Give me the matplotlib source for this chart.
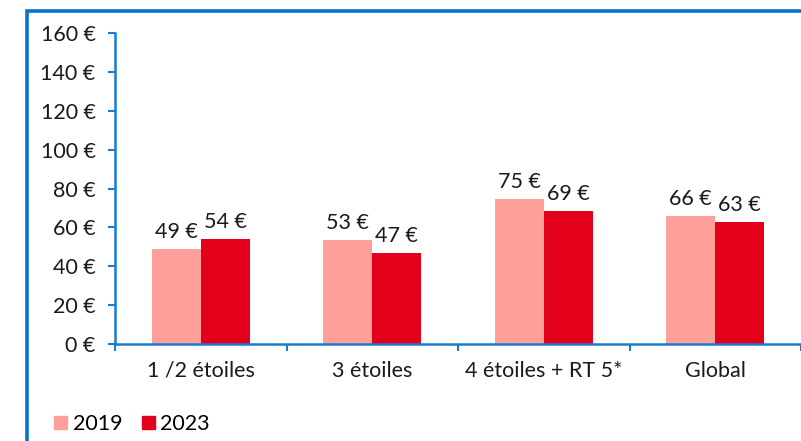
import matplotlib.pyplot as plt
import numpy as np
from matplotlib.patches import Rectangle, Patch

# ============================================================
# DONNEES
# ============================================================

categories = ['1 /2 étoiles', '3 étoiles', '4 étoiles + RT 5*', 'Global']
prix_2019 = [48.9, 53.4, 74.7, 65.8]
prix_2023 = [54.1, 46.6, 68.6, 62.6]
y_ticks = [0, 20, 40, 60, 80, 100, 120, 140, 160]

# ============================================================
# STYLE
# ============================================================

plt.rcParams['font.family'] = ['Lato', 'DejaVu Sans']
bleu = '#1B7BCC'
rose = '#FF9F9A'
rouge = '#E2001A'
fs = 15.5

fig = plt.figure(figsize=(8.01, 4.41), dpi=100)

# cadre bleu autour du graphique
fig.patches.append(Rectangle((27 / 801, -0.1), 1.2, 1 - 11 / 441 + 0.1,
                             transform=fig.transFigure, fill=False,
                             edgecolor='#0A72C6', linewidth=2.6))

ax = fig.add_axes([115 / 801, 97 / 441, 686 / 801, 311 / 441])

x = np.arange(len(categories))
w = 0.286

b1 = ax.bar(x - w / 2, prix_2019, w, color=rose, label='2019')
b2 = ax.bar(x + w / 2, prix_2023, w, color=rouge, label='2023')

for bars, vals in [(b1, prix_2019), (b2, prix_2023)]:
    for rect, v in zip(bars, vals):
        ax.annotate(f'{v:.0f} €',
                    (rect.get_x() + rect.get_width() / 2, v),
                    xytext=(0, 5), textcoords='offset points',
                    ha='center', va='bottom', fontsize=fs, color='#1a1a1a')

ax.set_xlim(-0.5, len(categories) - 0.5)
ax.set_ylim(0, 160)

ax.set_yticks(y_ticks)
ax.set_yticklabels([f'{t} €' for t in y_ticks], fontsize=fs, color='#1a1a1a')

ax.set_xticks(x)
ax.set_xticklabels(categories, fontsize=fs, color='#1a1a1a')
ax.tick_params(axis='x', length=0, pad=12)
ax.set_xticks(np.arange(-0.5, len(categories)), minor=True)
ax.tick_params(axis='x', which='minor', length=5, color=bleu, width=1.5)
ax.tick_params(axis='y', length=5, color=bleu, width=1.5, pad=9)

for s in ['top', 'right']:
    ax.spines[s].set_visible(False)
for s in ['left', 'bottom']:
    ax.spines[s].set_color(bleu)
    ax.spines[s].set_linewidth(1.8)

handles = [Patch(color=rose, label='2019'), Patch(color=rouge, label='2023')]
fig.legend(handles=handles, loc='lower left', bbox_to_anchor=(35 / 801, -0.028),
           ncol=2, frameon=False, fontsize=fs, handlelength=0.6,
           handleheight=0.6, handletextpad=0.25, columnspacing=0.9)

fig.savefig('out.png', dpi=100)
